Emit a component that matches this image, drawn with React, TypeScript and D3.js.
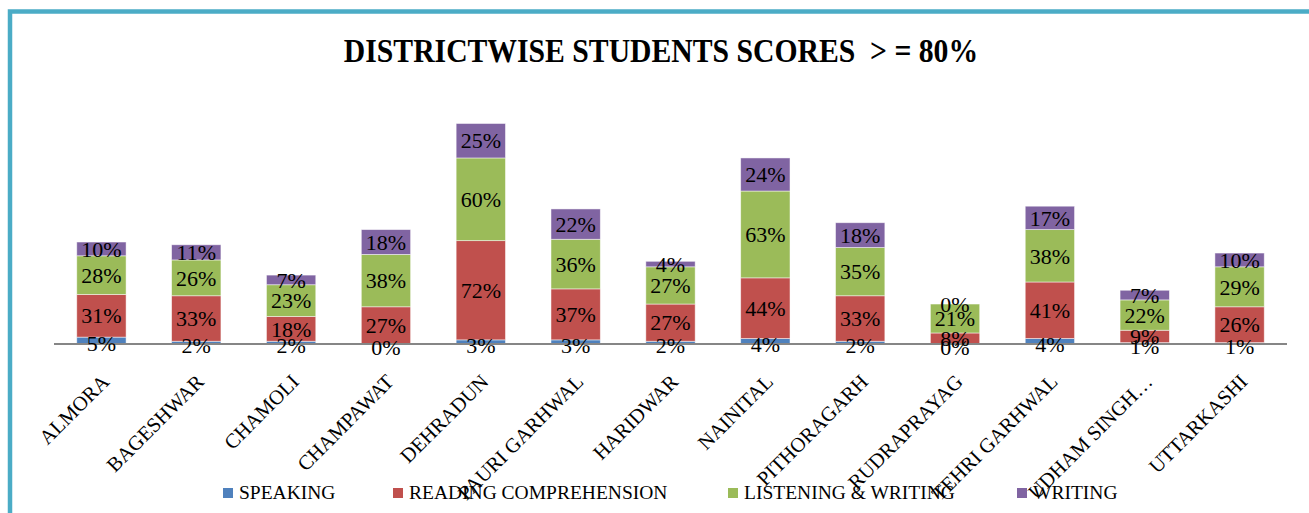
import React from "react";
import * as d3 from "d3";

const categories = ["ALMORA", "BAGESHWAR", "CHAMOLI", "CHAMPAWAT", "DEHRADUN", "PAURI GARHWAL", "HARIDWAR", "NAINITAL", "PITHORAGARH", "RUDRAPRAYAG", "TEHRI GARHWAL", "UDHAM SINGH…", "UTTARKASHI"];
const seriesNames = ["SPEAKING", "READING COMPREHENSION", "LISTENING & WRITING", "WRITING"];
const speaking = [5, 2, 2, 0, 3, 3, 2, 4, 2, 0, 4, 1, 1];
const reading = [31, 33, 18, 27, 72, 37, 27, 44, 33, 8, 41, 9, 26];
const listening = [28, 26, 23, 38, 60, 36, 27, 63, 35, 21, 38, 22, 29];
const writing = [10, 11, 7, 18, 25, 22, 4, 24, 18, 0, 17, 7, 10];
const colors = ["#4f81bd", "#c0504d", "#9bbb59", "#8064a2"];
const title = "DISTRICTWISE STUDENTS SCORES  > = 80%";

const W = 1309, H = 513;
const FONT = "'Liberation Serif', 'Times New Roman', serif";

export default function App() {
  const rows = categories.map((c, i) => ({ cat: c, s0: speaking[i], s1: reading[i], s2: listening[i], s3: writing[i] }));
  const keys = ["s0", "s1", "s2", "s3"];
  const stack = d3.stack<any>().keys(keys)(rows);
  const x = d3.scaleBand().domain(categories).range([54, 1287]).paddingInner(0.48).paddingOuter(0.24);
  const y = d3.scaleLinear().domain([0, 160]).range([344, 123.5]);
  const legendX = [223, 393, 728, 1017];

  return (
    <svg width={W} height={H} style={{ position: "absolute", left: 0, top: 0, background: "#fff" }} fontFamily={FONT}>
      <rect x={10} y={11.5} width={W + 20} height={H + 20} fill="none" stroke="#4bacc6" strokeWidth={4.5} />
      <text x={661} y={62} textAnchor="middle" fontWeight="bold" fontSize={33} style={{ whiteSpace: "pre" }}
        transform={`translate(661,0) scale(0.9,1) translate(-661,0)`}>{title}</text>
      {stack.map((layer, li) => (
        <g key={li} fill={colors[li]}>
          {layer.map((d, i) => (
            <rect key={i} x={x(categories[i])} width={x.bandwidth()} y={y(d[1])} height={Math.max(0, y(d[0]) - y(d[1]))}
              stroke="#ffffff" strokeOpacity={0.6} strokeWidth={0.8} />
          ))}
        </g>
      ))}
      <line x1={54} x2={1287} y1={344} y2={344} stroke="#868686" strokeWidth={2} />
      {stack.map((layer, li) => (
        <g key={"l" + li} fontSize={22} fill="#000" textAnchor="middle">
          {layer.map((d, i) => (
            <text key={i} x={(x(categories[i]) as number) + x.bandwidth() / 2} y={(y(d[0]) + y(d[1])) / 2 + (li === 0 ? 3 : 0)} dy="0.35em">
              {(d[1] - d[0]) + "%"}
            </text>
          ))}
        </g>
      ))}
      {categories.map((c, i) => {
        const cx = (x(c) as number) + x.bandwidth() / 2;
        return (
          <text key={c} fontSize={20.5} textAnchor="end"
            transform={`translate(${cx + 9},${383}) rotate(-45)`}>{c}</text>
        );
      })}
      {seriesNames.map((s, i) => (
        <g key={s}>
          <rect x={legendX[i]} y={488} width={10} height={10} fill={colors[i]} />
          <text x={legendX[i] + 16} y={499} fontSize={19.5}>{s}</text>
        </g>
      ))}
    </svg>
  );
}
